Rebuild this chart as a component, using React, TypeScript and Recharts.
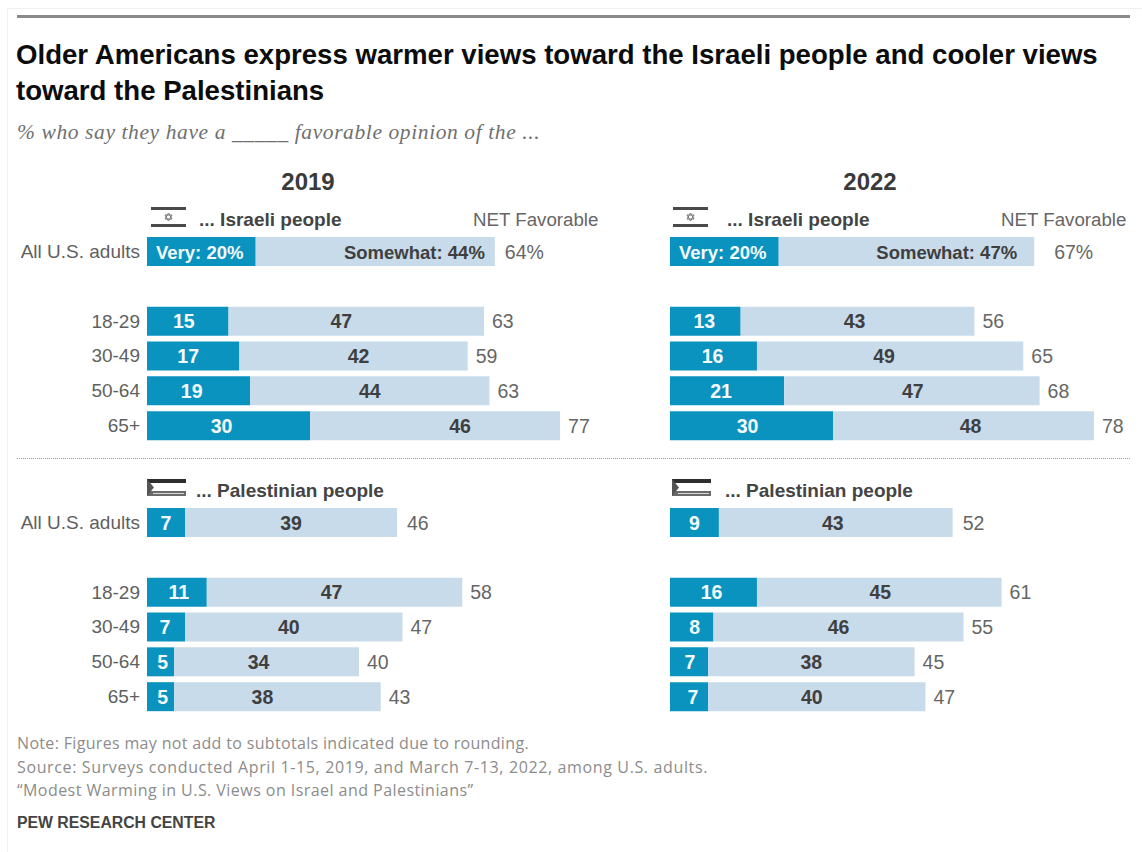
import { BarChart, Bar, XAxis, YAxis, LabelList } from 'recharts';
import type { CSSProperties } from 'react';

const groups = ['All U.S. adults', ' ', '18-29', '30-49', '50-64', '65+'];

// null leaves the empty row between the total and the age groups
const israeli2019Very = [20, null, 15, 17, 19, 30];
const israeli2019Somewhat = [44, null, 47, 42, 44, 46];
const israeli2019Net = [64, null, 63, 59, 63, 77];

const israeli2022Very = [20, null, 13, 16, 21, 30];
const israeli2022Somewhat = [47, null, 43, 49, 47, 48];
const israeli2022Net = [67, null, 56, 65, 68, 78];

const palestinian2019Very = [7, null, 11, 7, 5, 5];
const palestinian2019Somewhat = [39, null, 47, 40, 34, 38];
const palestinian2019Net = [46, null, 58, 47, 40, 43];

const palestinian2022Very = [9, null, 16, 8, 7, 7];
const palestinian2022Somewhat = [43, null, 45, 46, 38, 40];
const palestinian2022Net = [52, null, 61, 55, 45, 47];

// value labels are hand-placed rather than centred in their segments;
// LabelList skips the null row, so these run total, 18-29, 30-49, 50-64, 65+
const nudges = {
  israeli2019Very: [0, -4, -5, -7, -7],
  israeli2019Somewhat: [0, -15, 5, 0, 25],
  israeli2022Very: [0, -1, -1, -6, -4],
  israeli2022Somewhat: [0, -3, -6, 1, 7],
  palestinian2019Very: [0, 2, -1, 2, 2],
  palestinian2019Somewhat: [0, -3, -5, -8, -15],
  palestinian2022Very: [0, -2, 3, 1, 4],
  palestinian2022Somewhat: [-3, 1, 0, 0, -5],
};

const VERY = '#0a93bf';
const SOMEWHAT = '#c8dbea';
const SANS = '"Liberation Sans", Arial, sans-serif';

const buildRows = (very: (number | null)[], somewhat: (number | null)[], net: (number | null)[]) =>
  groups.map((group, i) => ({ group, very: very[i], somewhat: somewhat[i], net: net[i] }));

interface PanelProps {
  left: number;
  top: number;
  very: (number | null)[];
  somewhat: (number | null)[];
  net: (number | null)[];
  veryNudge: number[];
  somewhatNudge: number[];
  showGroups?: boolean;
  spelledOut?: boolean; // first row reads "Very: 20%" / "Somewhat: 44%"
  totalNetGap?: number;
}

function Panel({ left, top, very, somewhat, net, veryNudge, somewhatNudge, showGroups, spelledOut, totalNetGap = 10 }: PanelProps) {
  const rows = buildRows(very, somewhat, net);
  const axisWidth = showGroups ? 147 : 0;

  const veryLabel = (p: any) => {
    if (p.value == null) return null;
    const wide = spelledOut && p.index === 0;
    return (
      <text
        x={wide ? p.x + 9 : p.x + p.width / 2 + veryNudge[p.index]}
        y={p.y + p.height / 2 + 7}
        textAnchor={wide ? 'start' : 'middle'}
        fontFamily={SANS}
        fontWeight={700}
        fontSize={wide ? 18.5 : 19.5}
        fill="#f4fafd"
      >
        {wide ? `Very: ${p.value}%` : p.value}
      </text>
    );
  };

  const somewhatLabel = (p: any) => {
    if (p.value == null) return null;
    const wide = spelledOut && p.index === 0;
    return (
      <text
        x={wide ? p.x + p.width - 10 - (totalNetGap > 10 ? 7 : 0) : p.x + p.width / 2 + somewhatNudge[p.index]}
        y={p.y + p.height / 2 + 7}
        textAnchor={wide ? 'end' : 'middle'}
        fontFamily={SANS}
        fontWeight={700}
        fontSize={wide ? 18.5 : 19.5}
        fill="#3f3f3f"
      >
        {wide ? `Somewhat: ${p.value}%` : p.value}
      </text>
    );
  };

  const netLabel = (p: any) => {
    if (p.value == null) return null;
    const gap = p.index === 0 ? totalNetGap : 8;
    return (
      <text x={p.x + p.width + gap} y={p.y + p.height / 2 + 7} fontFamily={SANS} fontSize={19.5} fill="#666">
        {spelledOut && p.index === 0 ? `${p.value}%` : p.value}
      </text>
    );
  };

  const groupTick = (p: any) => (
    <text x={140} y={p.y + 6.5} textAnchor="end" fontFamily={SANS} fontSize={19} fill="#5f5f5f">
      {p.payload.value}
    </text>
  );

  return (
    <div style={{ position: 'absolute', left: left - axisWidth, top }}>
      <BarChart
        width={axisWidth + 462}
        height={209}
        data={rows}
        layout="vertical"
        margin={{ top: 0, right: 0, bottom: 0, left: 0 }}
      >
        <XAxis type="number" domain={[0, 85]} hide />
        <YAxis
          type="category"
          dataKey="group"
          width={axisWidth}
          hide={!showGroups}
          axisLine={false}
          tickLine={false}
          tick={groupTick}
          interval={0}
        />
        <Bar dataKey="very" stackId="a" fill={VERY} barSize={29} isAnimationActive={false}>
          <LabelList dataKey="very" content={veryLabel} />
        </Bar>
        <Bar dataKey="somewhat" stackId="a" fill={SOMEWHAT} barSize={29} isAnimationActive={false}>
          <LabelList dataKey="somewhat" content={somewhatLabel} />
          <LabelList dataKey="net" content={netLabel} />
        </Bar>
      </BarChart>
    </div>
  );
}

function Txt({ x, y, style, children }: { x: number; y: number; style?: CSSProperties; children: React.ReactNode }) {
  // y is the vertical centre of the line
  return (
    <div
      style={{
        position: 'absolute',
        left: x,
        top: y - 15,
        height: 30,
        lineHeight: '30px',
        whiteSpace: 'nowrap',
        fontFamily: SANS,
        ...style,
      }}
    >
      {children}
    </div>
  );
}

function IsraeliFlag({ x, y }: { x: number; y: number }) {
  return (
    <svg style={{ position: 'absolute', left: x, top: y }} width={35} height={20}>
      <rect x={0} y={0} width={35} height={3} fill="#4a4a4a" />
      <rect x={0} y={17} width={35} height={3} fill="#4a4a4a" />
      <polygon points="17.5,6 21,12 14,12" fill="none" stroke="#777" strokeWidth={1} />
      <polygon points="17.5,14 21,8 14,8" fill="none" stroke="#777" strokeWidth={1} />
    </svg>
  );
}

function PalestinianFlag({ x, y }: { x: number; y: number }) {
  return (
    <svg style={{ position: 'absolute', left: x, top: y }} width={39} height={20}>
      <rect x={0} y={1} width={39} height={4} fill="#2e2e2e" />
      <rect x={0} y={13} width={39} height={5} fill="#6a6a6a" />
      <rect x={6} y={15} width={31} height={1} fill="#d8d8d8" />
      <polygon points="0,1 7,9.5 0,18" fill="#555" />
    </svg>
  );
}

const titleStyle: CSSProperties = { fontSize: 27.6, fontWeight: 700, color: '#0c0c0c' };
const yearStyle: CSSProperties = { fontSize: 24, fontWeight: 700, color: '#3a3a3a', transform: 'translateX(-50%)' };
const headStyle: CSSProperties = { fontSize: 19, fontWeight: 700, color: '#444' };
const netStyle: CSSProperties = { fontSize: 18.7, color: '#666' };
const noteStyle: CSSProperties = { fontFamily: '"Open Sans", sans-serif', fontSize: 16, color: '#8c8c8c' };

export default function App() {
  return (
    <div
      style={{ position: 'absolute', left: 0, top: 0, width: 1142, height: 852, background: '#fff', overflow: 'hidden' }}
    >
      <div style={{ position: 'absolute', left: 7, top: 8, width: 1135, height: 844, borderLeft: '1px solid #f0f0f0', borderTop: '1px solid #f0f0f0' }} />
      <div style={{ position: 'absolute', left: 17, top: 15, width: 1113, height: 3, background: '#8a8a8a' }} />

      <Txt x={16} y={55} style={titleStyle}>
        Older Americans express warmer views toward the Israeli people and cooler views
      </Txt>
      <Txt x={16} y={91} style={titleStyle}>
        toward the Palestinians
      </Txt>
      <Txt x={17} y={132} style={{ fontFamily: '"Liberation Serif", serif', fontStyle: 'italic', fontSize: 21.5, letterSpacing: 0.6, color: '#707070' }}>
        % who say they have a _____ favorable opinion of the ...
      </Txt>

      <Txt x={308} y={182} style={yearStyle}>2019</Txt>
      <Txt x={870} y={182} style={yearStyle}>2022</Txt>

      <IsraeliFlag x={151} y={207} />
      <Txt x={199} y={220} style={headStyle}>... Israeli people</Txt>
      <Txt x={473} y={220} style={netStyle}>NET Favorable</Txt>

      <IsraeliFlag x={673} y={207} />
      <Txt x={727} y={220} style={headStyle}>... Israeli people</Txt>
      <Txt x={1001} y={220} style={netStyle}>NET Favorable</Txt>

      <Panel left={147} top={233.5} very={israeli2019Very} somewhat={israeli2019Somewhat} net={israeli2019Net} veryNudge={nudges.israeli2019Very} somewhatNudge={nudges.israeli2019Somewhat} showGroups spelledOut />
      <Panel left={670} top={233.5} very={israeli2022Very} somewhat={israeli2022Somewhat} net={israeli2022Net} veryNudge={nudges.israeli2022Very} somewhatNudge={nudges.israeli2022Somewhat} spelledOut totalNetGap={20} />

      <div style={{ position: 'absolute', left: 17, top: 458, width: 1113, borderTop: '1px dotted #999' }} />

      <PalestinianFlag x={147} y={478} />
      <Txt x={196} y={491} style={headStyle}>... Palestinian people</Txt>
      <PalestinianFlag x={672} y={478} />
      <Txt x={725} y={491} style={headStyle}>... Palestinian people</Txt>

      <Panel left={147} top={504.5} very={palestinian2019Very} somewhat={palestinian2019Somewhat} net={palestinian2019Net} veryNudge={nudges.palestinian2019Very} somewhatNudge={nudges.palestinian2019Somewhat} showGroups />
      <Panel left={670} top={504.5} very={palestinian2022Very} somewhat={palestinian2022Somewhat} net={palestinian2022Net} veryNudge={nudges.palestinian2022Very} somewhatNudge={nudges.palestinian2022Somewhat} />

      <Txt x={17} y={743} style={{ ...noteStyle, letterSpacing: 0.33 }}>Note: Figures may not add to subtotals indicated due to rounding.</Txt>
      <Txt x={17} y={767} style={{ ...noteStyle, letterSpacing: 0.63 }}>Source: Surveys conducted April 1-15, 2019, and March 7-13, 2022, among U.S. adults.</Txt>
      <Txt x={17} y={790} style={{ ...noteStyle, letterSpacing: 0.45 }}>“Modest Warming in U.S. Views on Israel and Palestinians”</Txt>
      <Txt x={17} y={823} style={{ fontSize: 15.8, fontWeight: 700, color: '#444' }}>PEW RESEARCH CENTER</Txt>
    </div>
  );
}
